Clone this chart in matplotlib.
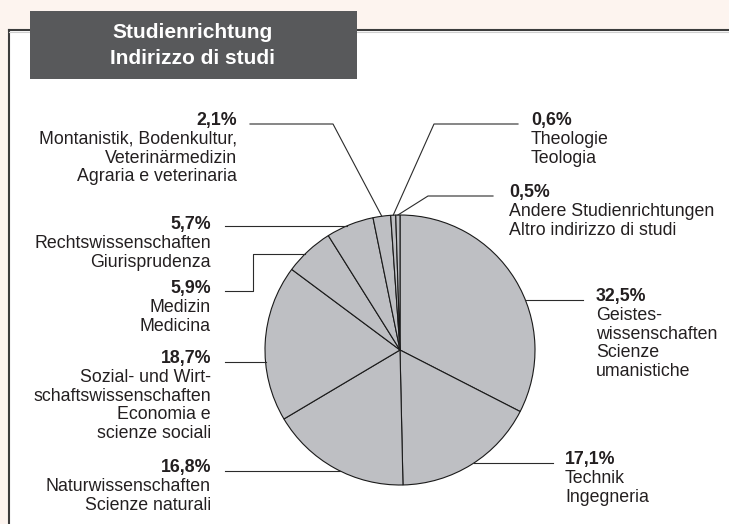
import numpy as np
import matplotlib
matplotlib.use('Agg')
import matplotlib.pyplot as plt
from matplotlib.patches import Rectangle

plt.rcParams['font.family'] = ['Liberation Sans', 'DejaVu Sans']

# Daten (Anteile in %), im Uhrzeigersinn ab 12 Uhr
shares = [32.5, 17.1, 16.8, 18.7, 5.9, 5.7, 2.1, 0.6, 0.5]
pct_labels = ['32,5%', '17,1%', '16,8%', '18,7%', '5,9%', '5,7%', '2,1%', '0,6%', '0,5%']
names = [
    ['Geistes-', 'wissenschaften', 'Scienze', 'umanistiche'],
    ['Technik', 'Ingegneria'],
    ['Naturwissenschaften', 'Scienze naturali'],
    ['Sozial- und Wirt-', 'schaftswissenschaften', 'Economia e', 'scienze sociali'],
    ['Medizin', 'Medicina'],
    ['Rechtswissenschaften', 'Giurisprudenza'],
    ['Montanistik, Bodenkultur,', 'Veterinärmedizin', 'Agraria e veterinaria'],
    ['Theologie', 'Teologia'],
    ['Andere Studienrichtungen', 'Altro indirizzo di studi'],
]
title_lines = ['Studienrichtung', 'Indirizzo di studi']

W, H = 729, 524
BG = '#fdf4ef'
TXT = '#231f20'
LINE = '#2b2b2b'
FS = 12.8

def py(y):
    # pixel y (von oben) -> Datenkoordinate
    return H - y

fig = plt.figure(figsize=(W / 100, H / 100), dpi=100, facecolor=BG)
ax = fig.add_axes([0, 0, 1, 1])

cx, cy, r = 400, 350, 135

# Hintergrundbox
ax.add_patch(Rectangle((9, 0), W - 9, py(30), facecolor='white', edgecolor='none', zorder=0))
ax.plot([9, 9], [0, py(30)], color='#3c3c3c', lw=1.5, zorder=1)
ax.plot([9, W], [py(30), py(30)], color='#3c3c3c', lw=1.5, zorder=1)
ax.plot([9, W], [py(31.5), py(31.5)], color='#cfcfcf', lw=0.8, zorder=1)

# Titel-Reiter
ax.add_patch(Rectangle((30, py(79)), 327, 68, facecolor='#58595b', edgecolor='none', zorder=2))
ax.text(193, py(38), title_lines[0], color='white', fontsize=15, fontweight='bold',
        ha='center', va='baseline', zorder=3)
ax.text(193, py(63.5), title_lines[1], color='white', fontsize=15, fontweight='bold',
        ha='center', va='baseline', zorder=3)

# Kreisdiagramm
ax.pie(shares, startangle=90, counterclock=False, center=(cx, py(cy)), radius=r,
       colors=['#bebfc3'] * len(shares),
       wedgeprops=dict(edgecolor='#1a1a1a', linewidth=0.8))

ax.set_xlim(0, W)
ax.set_ylim(0, H)
ax.set_aspect('auto')
ax.axis('off')

# Mittelwinkel der Segmente (im Uhrzeigersinn ab oben)
fr = np.array(shares) / sum(shares)
cum = np.cumsum(fr)
mid = (cum - fr / 2) * 360

def edge_mid(i):
    a = np.radians(mid[i])
    return cx + r * np.sin(a), cy - r * np.cos(a)

def edge_at_y(y, side):
    return cx + side * np.sqrt(r ** 2 - (y - cy) ** 2)

def draw(xs, ys):
    ax.plot(xs, [py(v) for v in ys], color=LINE, lw=0.8, zorder=4)

def label(i, x, base, ha):
    ax.text(x, py(base), pct_labels[i], fontsize=FS, fontweight='bold', color=TXT,
            ha=ha, va='baseline')
    for k, line in enumerate(names[i]):
        ax.text(x, py(base + 18.8 * (k + 1)), line, fontsize=FS, color=TXT,
                ha=ha, va='baseline')

# Beschriftungen (Index, x, Grundlinie, Ausrichtung)
label(0, 596, 301, 'left')
label(1, 565, 464, 'left')
label(2, 211, 472, 'right')
label(3, 211, 363, 'right')
label(4, 211, 293, 'right')
label(5, 211, 229, 'right')
label(6, 237, 125, 'right')
label(7, 531, 125, 'left')
label(8, 509, 197, 'left')

# Führungslinien
draw([edge_at_y(300, 1), 583], [300, 300])
draw([edge_at_y(463, 1), 553], [463, 463])
draw([225, edge_at_y(471, -1)], [471, 471])
draw([225, edge_at_y(362, -1)], [362, 362])
draw([225, 253, 253, edge_at_y(254, -1)], [291, 291, 254, 254])
draw([225, edge_at_y(226, -1)], [226, 226])
ex, ey = edge_mid(6)
draw([250, 333, ex], [124, 124, ey])
ex, ey = edge_mid(7)
draw([ex, 434, 518], [ey, 124, 124])
ex, ey = edge_mid(8)
draw([ex, 428, 493], [ey, 196, 196])

fig.savefig('out.png', dpi=100, facecolor=BG)
